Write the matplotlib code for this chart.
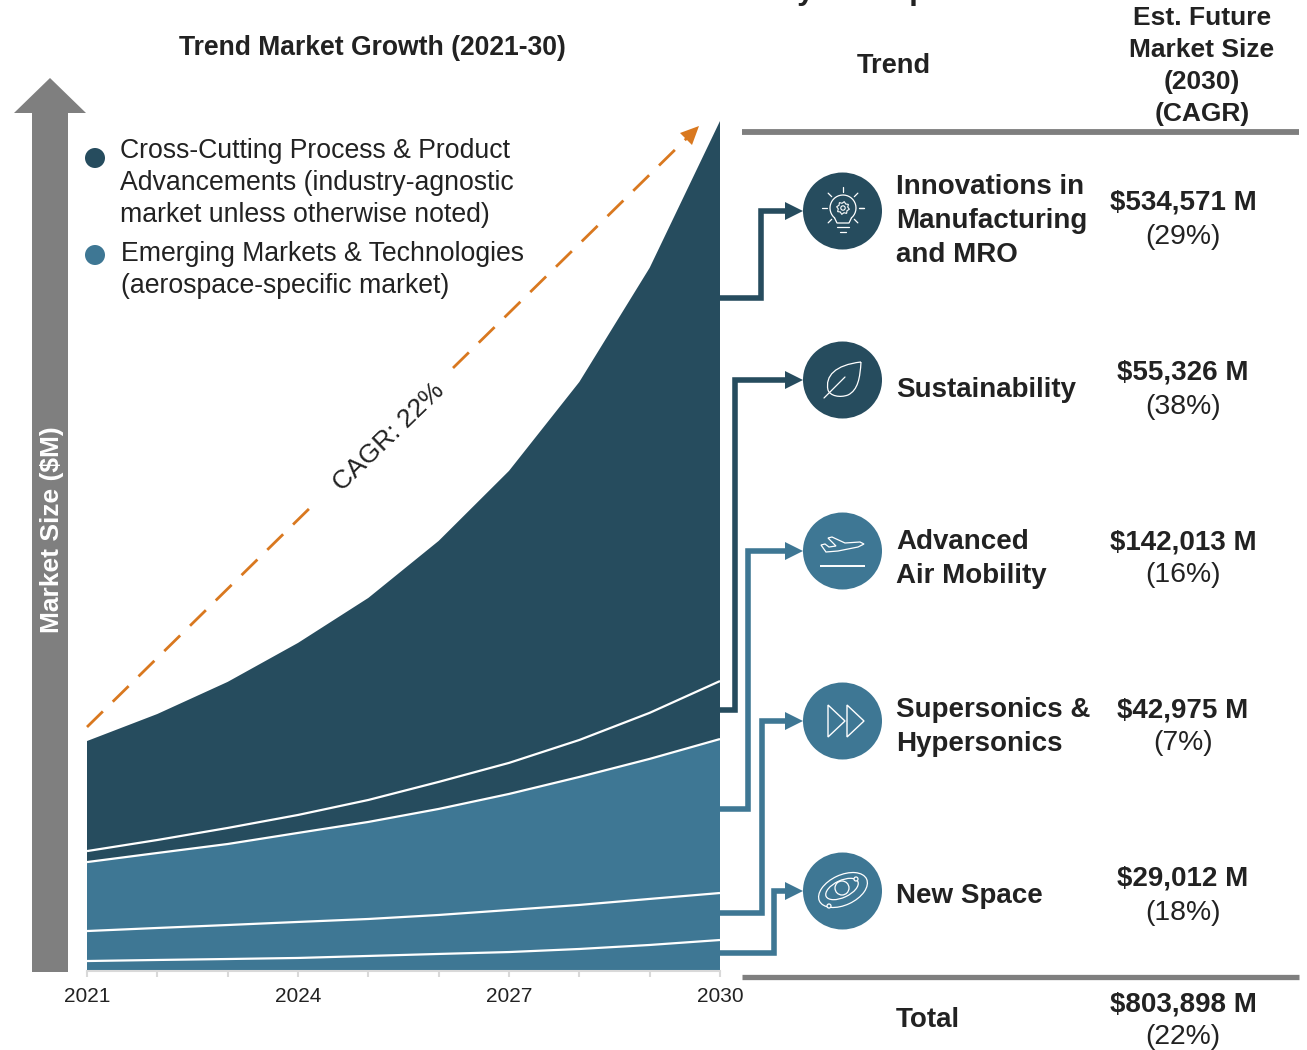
import numpy as np
import matplotlib
matplotlib.use('Agg')
import matplotlib.pyplot as plt
from matplotlib.patches import Circle, Ellipse, Polygon, PathPatch
from matplotlib.path import Path

plt.rcParams['font.family'] = ['Liberation Sans', 'DejaVu Sans']

# data, $M
years = [2021, 2022, 2023, 2024, 2025, 2026, 2027, 2028, 2029, 2030]
year_labels = ['2021', '', '', '2024', '', '', '2027', '', '', '2030']
new_space = [8500, 9500, 10400, 11400, 13300, 15200, 17000, 19900, 23700, 28400]
supersonics = [28400, 30300, 32200, 34100, 35000, 36900, 39800, 41700, 43600, 44500]
air_mobility = [65300, 71000, 76700, 84300, 91900, 100400, 109900, 121200, 132600, 145800]
sustainability = [10400, 12300, 15200, 17000, 20800, 25600, 29400, 35000, 43600, 54900]
innovations = [104200, 119300, 138300, 162900, 191300, 228200, 276500, 339000, 421400, 530300]

trend_names = [['Innovations in', 'Manufacturing', 'and MRO'], ['Sustainability'], ['Advanced', 'Air Mobility'],
               ['Supersonics &', 'Hypersonics'], ['New Space']]
trend_sizes = ['$534,571 M', '$55,326 M', '$142,013 M', '$42,975 M', '$29,012 M']
trend_cagr = ['(29%)', '(38%)', '(16%)', '(7%)', '(18%)']

DARK = '#264C5E'
LIGHT = '#3E7794'
GREY = '#7F7F7F'
ORANGE = '#D9781F'
INK = '#222222'
W, H = 1307, 1050

fig = plt.figure(figsize=(W / 100, H / 100), dpi=100)

# area chart
ax = fig.add_axes([87 / W, (H - 970) / H, 633 / W, 849 / H])
layers = [new_space, supersonics, air_mobility, sustainability, innovations]
ax.stackplot(years, layers, colors=[LIGHT, LIGHT, LIGHT, DARK, DARK], linewidth=0)
tops = np.cumsum(layers, axis=0)
for t in tops[:-1]:
    ax.plot(years, t, color='white', lw=1.6, solid_capstyle='butt')
ax.set_xlim(2021, 2030)
ax.set_ylim(0, 803900)
ax.set_yticks([])
ax.set_xticks(years)
ax.set_xticklabels(year_labels)
ax.tick_params(axis='x', length=4, width=1.5, color='#D9D9D9', pad=7, labelsize=15, labelcolor=INK)
for s in ['top', 'left', 'right']:
    ax.spines[s].set_visible(False)
ax.spines['bottom'].set_color('#D9D9D9')
ax.spines['bottom'].set_linewidth(1.5)
ax.spines['bottom'].set_position(('outward', 1))
ax.patch.set_alpha(0)

# overlay in pixel coordinates for everything around the chart
ov = fig.add_axes([0, 0, 1, 1])
ov.set_xlim(0, W)
ov.set_ylim(H, 0)
ov.axis('off')
ov.patch.set_alpha(0)


def label(x, y, s, size=19, bold=False, ha='center'):
    # text sits about 2px high when centred on va
    ov.text(x, y + 2, s, fontsize=size, fontweight='bold' if bold else 'normal', color=INK,
            ha=ha, va='center')


# market size arrow
ov.add_patch(Polygon([(32, 972), (32, 113), (14, 113), (50, 78), (86, 113), (68, 113), (68, 972)],
                     fc=GREY, ec='none'))
ov.text(52, 530, 'Market Size ($M)', rotation=90, color='white', fontsize=19, fontweight='bold',
        ha='center', va='center')

# CAGR dashes
for x0, y0, x1, y1 in [(87, 727, 318, 500), (453, 368, 688, 137)]:
    ov.plot([x0, x1], [y0, y1], color=ORANGE, lw=2, dashes=(8, 5))
ov.add_patch(Polygon([(699, 126), (692, 145), (680, 133)], fc=ORANGE, ec='none'))
ov.text(389, 437, 'CAGR: 22%', rotation=44, rotation_mode='anchor', fontsize=19, color=INK,
        ha='center', va='center')

# headers
label(372, 46, 'Trend Market Growth (2021-30)', 19.1, True)
label(894, 64, 'Trend', 19.6, True)
for y, s in zip([16, 48, 80, 112], ['Est. Future', 'Market Size', '(2030)', '(CAGR)']):
    label(1202, y, s, 19, True)
ov.text(800, -1, 'Summary for Top', fontsize=22.5, fontweight='bold', color=INK, ha='center',
        va='baseline', clip_on=True)

# legend
ov.add_patch(Circle((95, 158), 10, fc=DARK, ec='none'))
ov.add_patch(Circle((95, 255), 10, fc=LIGHT, ec='none'))
for y, s in zip([149, 181, 213], ['Cross-Cutting Process & Product', 'Advancements (industry-agnostic',
                                  'market unless otherwise noted)']):
    label(120, y, s, 19.2, ha='left')
for y, s in zip([252, 284], ['Emerging Markets & Technologies', '(aerospace-specific market)']):
    label(121, y, s, 19.2, ha='left')

# rules
ov.plot([742, 1299], [132, 132], color=GREY, lw=4.2, solid_capstyle='butt')
ov.plot([742, 1299], [977, 977], color=GREY, lw=3.8, solid_capstyle='butt')

# connectors
circle_y = [211, 380, 551, 721, 891]
circle_col = [DARK, DARK, LIGHT, LIGHT, LIGHT]
start_y = [298, 710, 809, 913, 953]
bend_x = [761, 735, 748, 762, 774]
for cy, c, sy, bx in zip(circle_y, circle_col, start_y, bend_x):
    ov.plot([720, bx, bx, 788], [sy, sy, cy, cy], color=c, lw=4, solid_joinstyle='miter',
            solid_capstyle='butt')
    ov.add_patch(Polygon([(785, cy - 9), (803, cy), (785, cy + 9)], fc=c, ec='none'))
    ov.add_patch(Ellipse((842.5, cy), 79, 77, fc=c, ec='none'))

ICON = dict(color='white', lw=0.9, solid_capstyle='round')

# bulb with gear
bx, by = 843, 208
ang = np.radians(np.arange(0, 360, 22.5) + 11.25)
rad = np.array([6.5, 4.8] * 8)
bulb_t = np.radians(np.arange(-50, 231, 10))
ov.plot(bx + 13 * np.cos(bulb_t), by - 13 * np.sin(bulb_t), **ICON)
ov.plot([bx - 8.4, bx - 6, bx + 6, bx + 8.4], [by + 10, by + 15, by + 15, by + 10], **ICON)
ov.add_patch(Polygon(np.column_stack([bx + rad * np.cos(ang), by + rad * np.sin(ang)]), fc='none', ec='white', lw=0.8))
ov.add_patch(Circle((bx, by), 2.2, fc='none', ec='white', lw=0.8))
for a in np.radians([0, 45, 90, 135, 180, 225, 315, 0]):
    ov.plot([bx + 16 * np.cos(a), bx + 21 * np.cos(a)], [by - 16 * np.sin(a), by - 21 * np.sin(a)], **ICON)
ov.plot([837, 849], [227, 227], **ICON)
ov.plot([840, 846], [232, 232], **ICON)

# leaf
leaf = Path([(861, 362), (835, 365), (825, 376), (828, 390), (830, 396), (840, 398), (848, 395), (858, 390), (860, 378), (861, 362)],
            [Path.MOVETO, Path.CURVE4, Path.CURVE4, Path.CURVE4, Path.CURVE4, Path.CURVE4, Path.CURVE4, Path.CURVE4, Path.CURVE4, Path.CURVE4])
ov.add_patch(PathPatch(leaf, fc='none', ec='white', lw=0.9))
ov.plot([824, 845], [398, 377], **ICON)

# plane
ov.add_patch(Polygon([(821, 545), (825, 544), (829, 547), (836, 546), (828, 538), (832, 537), (845, 543), (860, 542),
                      (864, 544), (858, 547), (838, 551), (826, 552)], fc='none', ec='white', lw=0.9))
ov.plot([820, 865], [566, 566], color='white', lw=1.4, solid_capstyle='butt')

# double triangle
for x0 in [828, 847]:
    ov.add_patch(Polygon([(x0, 705), (x0 + 17, 721), (x0, 737)], fc='none', ec='white', lw=1))

# galaxy
ov.add_patch(Circle((842, 888), 7, fc='none', ec='white', lw=0.9))
ov.add_patch(Ellipse((842, 889), 35, 17, angle=-25, fc='none', ec='white', lw=0.9))
ov.add_patch(Ellipse((843, 890), 52, 30, angle=-25, fc='none', ec='white', lw=0.9))
ov.add_patch(Circle((856, 879), 2, fc=LIGHT, ec='white', lw=0.9))
ov.add_patch(Circle((829, 906), 2, fc=LIGHT, ec='white', lw=0.9))

# table rows
name_y = [219, 388, 557, 725, 894]
size_y = [201, 371, 540, 708, 877]
for ny, sy, names, s, c in zip(name_y, size_y, trend_names, trend_sizes, trend_cagr):
    for i, n in enumerate(names):
        label(896, ny + (i - (len(names) - 1) / 2) * 33.5, n, 20, True, ha='left')
    label(1183, sy, s, 20, True)
    label(1183, sy + 33.5, c, 20.4)
label(896, 1018, 'Total', 20, True, ha='left')
label(1183, 1002, '$803,898 M', 20, True)
label(1183, 1035.5, '(22%)', 20.4)

fig.savefig('out.png', dpi=100, facecolor='white')
